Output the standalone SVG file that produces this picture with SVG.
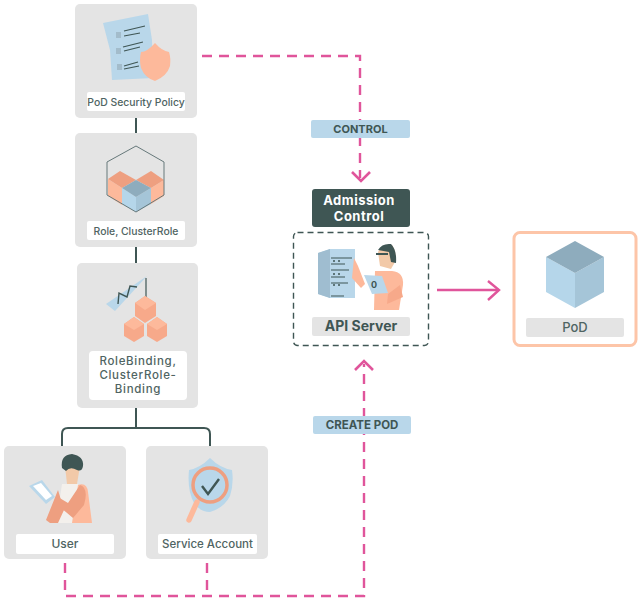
<svg xmlns="http://www.w3.org/2000/svg" width="640" height="600" viewBox="0 0 640 600">
<style>
.card{fill:#e4e4e4}
.lab{fill:#fff}
.gl{fill:#e4e4e4}
.blu{fill:#b9d7ea}
.t{font-family:"Inter","Liberation Sans",sans-serif;font-weight:500;fill:#4f6462;text-anchor:middle;font-size:10.400px}
.m{font-size:11.500px}
.r{font-size:13px}
.rb{font-size:11.500px;letter-spacing:.7px}
.tb{font-family:"Inter","Liberation Sans",sans-serif;font-weight:700;fill:#3f5654;text-anchor:middle;font-size:11px}
.w{font-size:13px;letter-spacing:.5px;fill:#fff}
.ln{fill:none;stroke:#3f5654;stroke-width:2}
.dash{fill:none;stroke:#e0559b;stroke-width:2.4;stroke-dasharray:10 7}
.head{fill:none;stroke:#e0559b;stroke-width:2.6}
.thin{fill:none;stroke:#3f5654;stroke-width:1.2}
</style>
<rect width="640" height="600" fill="#fff"/>
<g id="connectors">
<path class="ln" d="M136 118V133M136 247V263M136 408V428M62 446V434Q62 428 68 428H204Q210 428 210 434V446"/>
<path class="dash" d="M202 56H360V178"/>
<path class="head" d="M352 172L361 181L370 172"/>
<path class="dash" d="M65 563V596H364V364"/>
<path class="dash" d="M207 563V596"/>
<path class="head" d="M355 370L364 361L373 370"/>
<path d="M437 290H499" fill="none" stroke="#e0559b" stroke-width="2.4"/>
<path d="M488 281L499 290L488 300" fill="none" stroke="#e0559b" stroke-width="2.4"/>
</g>
<g id="control-label"><rect x="311" y="120" width="99" height="18" rx="2" class="blu"/><text x="360.500" y="133" class="tb">CONTROL</text></g>
<g id="create-pod-label"><rect x="313" y="416" width="98" height="18" rx="2" class="blu"/><text x="362" y="429" class="tb" style="font-size:11.500px">CREATE POD</text></g>
<g id="pod-security-policy">
<rect x="75" y="4" width="122" height="114" rx="5" class="card"/>
<path d="M103 23L148 14L152 40L153 78L112 80L110 50Z" class="blu"/>
<path d="M124 31L145 26M124 36L140 33M123 47L143 42M124 51L140 47M124 66L138 62M124 69L139 66" class="thin"/>
<rect x="116" y="32" width="5" height="6" fill="#a3bccb"/><rect x="116" y="48" width="5" height="6" fill="#a3bccb"/><rect x="117" y="64" width="5" height="6" fill="#a3bccb"/>
<path d="M155 43Q147 52 141 52Q139 60 141 68Q145 78 155 81Q167 76 170 66Q171 58 169 52Q162 51 155 43Z" fill="#fdb99b"/>
<rect x="87" y="92" width="98" height="19" rx="2" class="lab"/><text x="136" y="105.500" class="t">PoD Security Policy</text>
</g>
<g id="role">
<rect x="75" y="133" width="122" height="114" rx="5" class="card"/>
<path d="M108 179L122 188V205L108 196Z" fill="#fdb99b"/>
<path d="M164 180L151 188V204L164 196Z" fill="#fdb99b"/>
<path d="M108 179L120 171L136 180L122 188Z" fill="#ee9f80"/>
<path d="M164 180L151 171L136 180L151 188Z" fill="#ee9f80"/>
<path d="M122 188L136 197V212L122 204Z" fill="#b5d6ea"/>
<path d="M151 188L136 197V212L151 204Z" fill="#a5c5d8"/>
<path d="M122 188L136 180L151 188L136 197Z" fill="#8eacbd"/>
<path d="M136 146L164 162V195L136 212L107 195V162Z" fill="none" stroke="#66787a" stroke-width="1"/>
<rect x="87" y="221" width="98" height="19" rx="2" class="lab"/><text x="136" y="234.500" class="t">Role, ClusterRole</text>
</g>
<g id="rolebinding">
<rect x="77" y="263" width="121" height="145" rx="5" class="card"/>
<path d="M106 304L147 276L115 311Z" class="blu"/>
<path d="M118 304L119 293L127 297L130 286L137 287" fill="none" stroke="#3f5654" stroke-width="1.400"/>
<path d="M146 278V302" class="thin"/>
<path d="M145 296L156 303V316L145 323L135 316V303Z" fill="#f7a98a"/><path d="M145 296L156 303L145 310L135 303Z" fill="#fdb99b"/>
<path d="M134 317L144 324V336L134 342L124 336V324Z" fill="#f7a98a"/><path d="M134 317L144 324L134 330L124 324Z" fill="#fdb99b"/>
<path d="M157 317L167 324V336L157 342L147 336V324Z" fill="#f7a98a"/><path d="M157 317L167 324L157 330L147 324Z" fill="#fdb99b"/>
<rect x="89" y="351" width="98" height="49" rx="4" class="lab"/>
<text x="138" y="365" class="t rb">RoleBinding,</text><text x="138" y="379" class="t rb">ClusterRole-</text><text x="138" y="393" class="t rb">Binding</text>
</g>
<g id="user">
<rect x="4" y="446" width="122" height="113" rx="5" class="card"/>
<path d="M65 466L80 466L77 484H67Z" fill="#f2c9a8"/>
<path d="M62 468Q60 455 72 454Q84 456 83 466Q82 472 77 470Q70 466 66 471Z" fill="#3f5654"/>
<path d="M62 484H78L82 523H56Z" fill="#f3f0ec"/>
<path d="M58 490L46 520L50 523H58L64 510Z" fill="#ee9f80"/>
<path d="M78 485Q87 482 88 492L92 523H72Z" fill="#fdb99b"/>
<path d="M80 485Q89 488 84 505L73 518L54 502L58 497L68 503Z" fill="#ee9f80"/>
<path d="M29 486L42 480L55 497L46 504Z" fill="#b9d7ea"/><path d="M33 486L41 483L52 496L46 500Z" fill="#fff"/>
<rect x="16" y="534" width="98" height="20" rx="2" class="lab"/><text x="65" y="548" class="t" style="font-size:12px">User</text>
</g>
<g id="service-account">
<rect x="146" y="446" width="122" height="113" rx="5" class="card"/>
<path d="M210 458Q200 468 189 470Q187 490 194 503Q200 512 210 512Q224 508 230 496Q234 484 232 470Q220 468 210 458Z" class="blu"/>
<path d="M197 502L189 520" stroke="#fdb99b" stroke-width="5.500" stroke-linecap="round" fill="none"/>
<circle cx="210" cy="485" r="17" fill="#b9d7ea" stroke="#ee9f80" stroke-width="3.500"/>
<path d="M202 486L208 494L219 479" fill="none" stroke="#3f5654" stroke-width="2.400"/>
<rect x="158" y="534" width="99" height="20" rx="2" class="lab"/><text x="207.500" y="548" class="t m">Service Account</text>
</g>
<g id="admission-control">
<rect x="312" y="189" width="98" height="38" rx="3" fill="#3f5654"/>
<text x="359" y="205" class="tb w">Admission</text><text x="359" y="221" class="tb w">Control</text>
</g>
<g id="api-server">
<rect x="293.500" y="232.500" width="135" height="113" rx="4" fill="none" stroke="#3f5654" stroke-width="1.400" stroke-dasharray="6 4"/>
<path d="M318 253L330 249H355V298H330L318 294Z" fill="#b9d7ea"/><path d="M318 253L330 249V298L318 294Z" fill="#9fbdd0"/>
<path d="M331 258H352M331 270H349M331 283H348M331 296H344M331 264H345M331 277H345" class="thin"/>
<circle cx="334" cy="261" r="1" fill="#3f5654"/><circle cx="339" cy="261" r="1" fill="#3f5654"/><circle cx="334" cy="274" r="1" fill="#3f5654"/><circle cx="339" cy="274" r="1" fill="#3f5654"/><circle cx="334" cy="285" r="1" fill="#3f5654"/><circle cx="339" cy="285" r="1" fill="#3f5654"/>
<path d="M354 258L358 266L365 284L361 288L352 278Z" fill="#fdb99b"/>
<path d="M375 271H392Q404 272 403 285L399 310H374Z" fill="#fdb99b"/>
<path d="M378 252Q382 243 392 245Q397 252 395 262L391 269L380 266Z" fill="#f2c9a8"/>
<path d="M378 250Q382 243 391 244Q397 250 396 263L391 262L389 252Z" fill="#3f5654"/>
<path d="M376 254H388" stroke="#3f5654" stroke-width="2"/>
<path d="M364 275L382 276L388 293L372 294Z" fill="#b9d7ea"/>
<text x="374" y="288" class="tb" style="font-size:9px">0</text>
<path d="M388 294L400 285L403 297L387 304Z" fill="#f7a98a"/>
<rect x="312" y="317" width="98" height="19" rx="2" class="gl"/><text x="361" y="331" class="tb" style="font-size:14px">API Server</text>
</g>
<g id="pod">
<rect x="514" y="232.500" width="122" height="113" rx="6" fill="#fff" stroke="#fdc5a8" stroke-width="3"/>
<path d="M546 257L575 273V308L546 292Z" fill="#b5d6ea"/>
<path d="M604 257L575 273V308L604 292Z" fill="#a5c5d8"/>
<path d="M575 241L604 257L575 273L546 257Z" fill="#8eacbd"/>
<rect x="526" y="318" width="98" height="19" rx="2" class="gl"/><text x="575" y="332" class="t r">PoD</text>
</g>
</svg>
